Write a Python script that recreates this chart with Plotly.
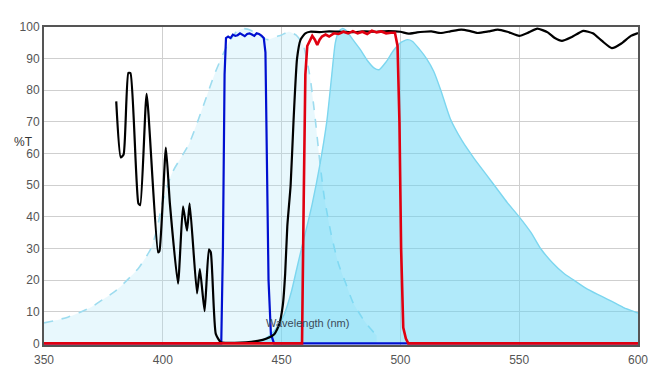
import plotly.graph_objects as go

# Excitation spectrum (light, dashed outline)
ex_wl = [350, 355, 360, 365, 370, 375, 380, 385, 390, 395, 397.5, 400, 404, 411, 417, 422, 427, 431, 434, 437, 440, 444, 448, 450, 453, 456, 459, 462, 464, 466, 468, 471, 474, 477, 480, 484, 487, 490]
ex_val = [6.5, 7.3, 8.3, 9.8, 11.5, 14, 16.5, 20, 24, 30, 36, 45, 54, 63, 75, 85.5, 94, 98.5, 99.5, 99, 97.5, 96, 97, 97.5, 98.5, 97.5, 94.5, 84, 72, 58, 46, 34, 25, 19, 13, 8, 5, 2.5]

# Emission spectrum (filled)
em_wl = [440, 443, 445, 448, 451, 454, 456.5, 458.7, 461, 463, 466, 469, 471, 472.6, 474, 475.5, 477, 480, 483, 486, 489, 491, 494, 497, 500, 503, 505, 508, 511, 514, 517, 521, 526, 531, 536, 541, 545, 550, 555, 559, 564, 569, 573, 578, 583, 587, 591, 595, 600]
em_val = [0.5, 1.5, 2.5, 5, 9, 16, 24, 31, 38, 44.5, 56, 70, 84, 95, 98.5, 99.5, 99, 96, 93, 89.5, 87, 86.5, 89, 92.5, 95, 96, 95.5, 93, 90, 86, 80, 71, 64, 58.5, 53.5, 48.5, 44.5, 40, 35, 30, 25.5, 22, 20, 17.5, 15.5, 14, 12.5, 11, 9.6]

# Excitation filter (blue)
bl_wl = [350, 424.6, 425.3, 426, 426.6, 427.5, 428.5, 429.5, 430.5, 431.5, 432.5, 433.5, 434.5, 435.5, 436.5, 437.5, 438.5, 439.5, 440.5, 441.5, 442.5, 443.2, 443.8, 444.5, 445.5, 446.8, 600]
bl_val = [0, 0, 30, 85, 96.5, 97, 96.5, 97.6, 97.2, 97.4, 98, 97.5, 97.1, 97.8, 98, 97.6, 97.2, 98, 97.8, 97.3, 96.5, 92, 60, 20, 3, 0, 0]

# Dichroic mirror (black)
bk_wl = [380.4, 382.3, 383.5, 385.5, 386.4, 389.7, 390.5, 393.2, 398, 398.6, 401.3, 403, 406.4, 408.5, 410.2, 411.3, 414.4, 415.6, 417.6, 419.4, 420.2, 422.3, 424.4, 428, 435, 440, 443.5, 447, 449, 450.5, 451.5, 452.4, 453.8, 455, 456.5, 458, 460, 462, 466, 470, 475, 480, 485, 490, 495, 500, 503.4, 507, 510, 513, 517, 521, 525.6, 529, 532.5, 537, 541, 545, 550, 554, 557.6, 562, 565, 568, 572, 577, 581, 585, 589, 593, 597, 600]
bk_val = [76.5, 58.8, 59.7, 85.5, 85.4, 44.3, 43.7, 78.9, 28.8, 29.2, 61.9, 44, 18.9, 43.3, 35.6, 44.3, 15.8, 23.5, 10.2, 29.7, 28.8, 3, 0.4, 0.2, 0.3, 0.8, 1.5, 3, 6, 12, 22, 37, 50, 70, 90, 96, 98, 98.5, 98.4, 98.6, 98.5, 98.4, 98.6, 98.5, 98.7, 98.5, 97.9, 98.3, 98.5, 98.6, 98.1, 98.6, 99.2, 98.8, 98.1, 98.6, 99.2, 98.5, 97.2, 98.3, 99.5, 98.3, 96.5, 95.6, 96.8, 98.8, 98.0, 95.5, 93.3, 94.8, 97.2, 98.1]

# Emission filter (red)
rd_wl = [350, 458.6, 459.3, 460, 460.8, 462, 462.9, 464, 465, 466, 467, 468.5, 470, 472, 474, 476, 478, 480, 482, 484, 486, 488, 490, 492, 494, 496, 497.7, 498.8, 499.6, 500.3, 501.2, 502.3, 503.3, 600]
rd_val = [0, 0, 45, 85, 94, 96, 97.2, 96, 94.3, 96, 97, 97.6, 97, 98, 97.8, 98.5, 98, 98.7, 98, 98.5, 97.8, 98.8, 98.3, 98.6, 98, 98.2, 98.2, 94, 70, 30, 5, 1.5, 0, 0]

x_ticks = [350, 400, 450, 500, 550, 600]
y_ticks = [0, 10, 20, 30, 40, 50, 60, 70, 80, 90, 100]

fig = go.Figure()
fig.add_trace(go.Scatter(x=ex_wl, y=ex_val, mode="lines", fill="tozeroy",
                         fillcolor="rgba(170,228,246,0.27)",
                         line=dict(color="#9ddcef", width=1.6, dash="dash", shape="spline", smoothing=0.6),
                         hoverinfo="skip"))
fig.add_trace(go.Scatter(x=em_wl, y=em_val, mode="lines", fill="tozeroy",
                         fillcolor="rgba(100,214,246,0.5)",
                         line=dict(color="#7cd6ef", width=1.4, shape="spline", smoothing=0.6),
                         hoverinfo="skip"))
fig.add_trace(go.Scatter(x=bl_wl, y=bl_val, mode="lines",
                         line=dict(color="#0010d0", width=2.2), hoverinfo="skip"))
fig.add_trace(go.Scatter(x=bk_wl, y=bk_val, mode="lines",
                         line=dict(color="#000000", width=2.2, shape="spline", smoothing=0.5), hoverinfo="skip"))
fig.add_trace(go.Scatter(x=rd_wl, y=rd_val, mode="lines",
                         line=dict(color="#e00010", width=2.6), hoverinfo="skip"))

# The page body has an 8px margin, so margins are reduced on left/top to compensate.
ML, MT, MR, MB = 32, 12, 36, 50
fig.update_layout(
    width=666, height=387,
    margin=dict(l=ML, r=MR, t=MT, b=MB),
    paper_bgcolor="white", plot_bgcolor="white",
    showlegend=False,
    font=dict(family="Liberation Sans, Arial, sans-serif", size=12, color="#555555"),
    xaxis=dict(range=[350, 600], tickvals=x_ticks, ticktext=[str(v) for v in x_ticks],
               showgrid=True, gridcolor="#cfcfcf", gridwidth=1, zeroline=False,
               showline=True, mirror=True, linecolor="#555555", linewidth=2,
               layer="below traces", ticks="", ticklabelstandoff=3, fixedrange=True),
    yaxis=dict(range=[-0.5, 100], tickvals=y_ticks, ticktext=[str(v) for v in y_ticks],
               showgrid=True, gridcolor="#cfcfcf", gridwidth=1, zeroline=False,
               showline=True, mirror=True, linecolor="#555555", linewidth=2,
               ticks="", fixedrange=True),
)
pw, ph = 666 - ML - MR, 387 - MT - MB
def px2paper(xp, yp):
    # xp, yp are positions in the browser window
    return (xp - 8 - ML) / pw, 1 - (yp - 8 - MT) / ph

ax, ay = px2paper(305, 323)
bx, by = px2paper(19, 138)
fig.add_annotation(text="Wavelength (nm)", x=ax, y=ay, xref="paper", yref="paper",
                   showarrow=False, xanchor="center", yanchor="middle",
                   font=dict(size=11, color="#3b4b5b"))
fig.add_annotation(text="%T", x=bx, y=by, xref="paper", yref="paper",
                   showarrow=False, xanchor="center", yanchor="middle",
                   font=dict(size=12, color="#333333"))

fig.write_html("out.html")
